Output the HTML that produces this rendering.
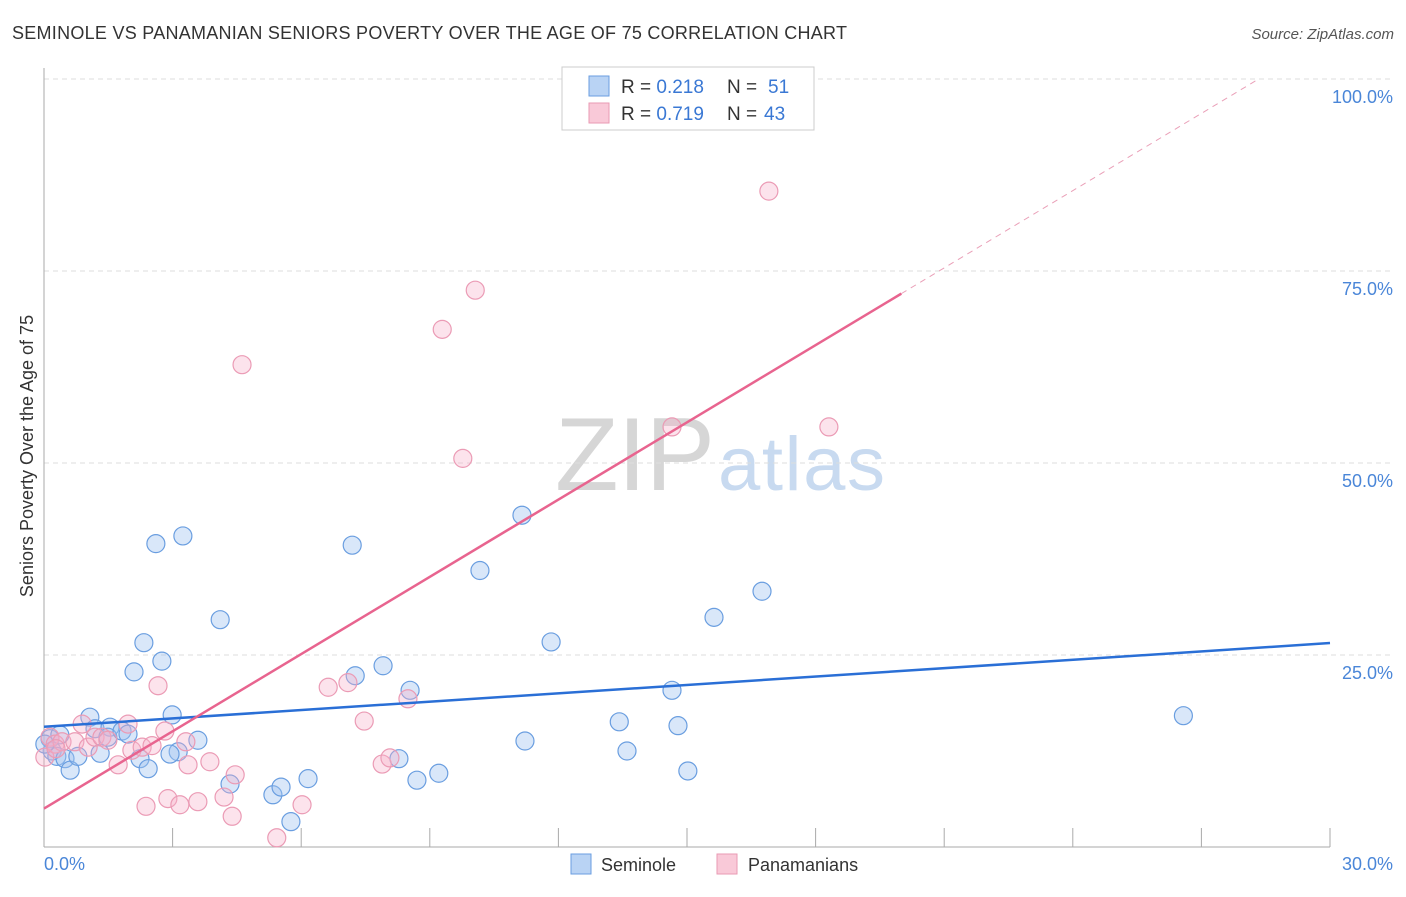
<!DOCTYPE html>
<html><head><meta charset="utf-8"><style>
body{margin:0;background:#fff;font-family:"Liberation Sans",sans-serif;}
svg text{font-family:"Liberation Sans",sans-serif;}
</style></head><body>
<svg id="chart" width="1406" height="892">
<text x="12" y="39" font-size="18" fill="#333" textLength="835">SEMINOLE VS PANAMANIAN SENIORS POVERTY OVER THE AGE OF 75 CORRELATION CHART</text>
<text x="1394" y="39" font-size="15" fill="#555" text-anchor="end" font-style="italic">Source: ZipAtlas.com</text>
<text x="555" y="490" font-size="104" fill="#d6d6d6" textLength="160" font-family="Liberation Serif">ZIP</text>
<text x="718" y="490" font-size="76" fill="#c8daf0" textLength="167">atlas</text>
<g id="grid"></g>
<line x1="44" y1="68" x2="44" y2="847" stroke="#aaa"/>
<line x1="44" y1="847" x2="1330" y2="847" stroke="#aaa"/>
<text transform="translate(33,456) rotate(-90)" font-size="18" fill="#333" text-anchor="middle">Seniors Poverty Over the Age of 75</text>
<text x="44" y="870" font-size="18" fill="#4a86d8">0.0%</text>
<text x="1393" y="870" font-size="18" fill="#4a86d8" text-anchor="end">30.0%</text>
<g id="marks"></g>
<g>
<rect x="562" y="67" width="252" height="63" fill="#fff" stroke="#ccc"/>
<rect x="589" y="76" width="20" height="20" fill="#b9d3f4" stroke="#6a9ee0"/>
<rect x="589" y="103" width="20" height="20" fill="#f9c9d8" stroke="#e99ab3"/>
<text x="621" y="93" font-size="19" fill="#333">R = <tspan fill="#3a78d4">0.218</tspan></text>
<text x="727" y="93" font-size="19" fill="#333">N = </text><text x="768" y="93" font-size="19" fill="#3a78d4">51</text>
<text x="621" y="120" font-size="19" fill="#333">R = <tspan fill="#3a78d4">0.719</tspan></text>
<text x="727" y="120" font-size="19" fill="#333">N = </text><text x="764" y="120" font-size="19" fill="#3a78d4">43</text>
</g>
<g>
<rect x="571" y="854" width="20" height="20" fill="#b9d3f4" stroke="#6a9ee0"/>
<text x="601" y="871" font-size="18" fill="#333">Seminole</text>
<rect x="717" y="854" width="20" height="20" fill="#f9c9d8" stroke="#e99ab3"/>
<text x="748" y="871" font-size="18" fill="#333">Panamanians</text>
</g>
</svg>
<script>
const yTicks=[25,50,75,100];
const xTickCount=10;
const blueX=[0.14,0.19,0.30,0.49,0.61,0.79,1.07,1.19,1.31,1.54,1.49,1.82,1.96,2.24,2.43,2.10,2.33,2.61,2.75,2.99,3.13,2.94,3.24,3.59,4.11,4.34,5.34,5.53,5.76,6.16,7.19,7.26,7.91,8.28,8.54,8.70,9.21,10.17,11.15,11.22,11.83,13.42,13.60,14.65,14.79,15.02,15.63,16.75,26.58,0.02,0.37];
const blueY=[14.1,12.5,11.8,11.5,10.0,11.8,16.9,15.4,12.2,15.6,14.3,15.1,14.7,11.5,10.2,22.8,26.6,39.5,24.2,17.2,12.4,12.1,40.5,13.9,29.6,8.2,6.8,7.8,3.3,8.9,39.3,22.3,23.6,11.5,20.4,8.7,9.6,36.0,43.2,13.8,26.7,16.3,12.5,20.4,15.8,9.9,29.9,33.3,17.1,13.4,14.6];
const pinkX=[0.02,0.14,0.26,0.42,0.72,0.89,1.03,1.19,1.35,1.49,1.73,1.96,2.05,2.29,2.52,2.38,2.66,2.82,2.89,3.17,3.31,3.36,3.59,3.87,4.20,4.39,4.46,4.62,5.43,6.02,6.63,7.09,7.47,7.89,8.07,8.49,9.29,9.77,10.06,14.65,16.91,18.31,0.28];
const pinkY=[11.7,14.3,13.4,13.7,13.7,16.0,13.0,14.3,14.3,13.9,10.7,16.0,12.6,13.0,13.2,5.3,21.0,15.1,6.3,5.5,13.7,10.7,5.9,11.1,6.5,4.0,9.4,62.8,1.2,5.5,20.8,21.4,16.4,10.8,11.6,19.3,67.4,50.6,72.5,54.7,85.4,54.7,12.8];
const X0=44,X1=1330,Y0=847,PPY=7.68;
const sx=v=>X0+v/30*(X1-X0), sy=v=>Y0-v*PPY;
const NS='http://www.w3.org/2000/svg';
const grid=document.getElementById('grid'), marks=document.getElementById('marks');
function mk(tag,attrs,parent){const e=document.createElementNS(NS,tag);for(const k in attrs)e.setAttribute(k,attrs[k]);parent.appendChild(e);return e;}
yTicks.forEach(t=>{
 const l=mk('line',{x1:44,x2:1394,y1:sy(t),y2:sy(t),stroke:'#ddd','stroke-dasharray':'5,4'},grid);
 
 
 const tx=mk('text',{x:1393,y:sy(t)+24,'font-size':18,fill:'#4a86d8','text-anchor':'end'},grid);
 tx.textContent=t.toFixed(1)+'%';
 
 
});
for(let i=1;i<=xTickCount;i++){
 const x=sx(i*3);
 const l=mk('line',{x1:x,x2:x,y1:828,y2:847,stroke:'#aaa'},grid);
 
 
}
function pts(xs,ys,fill,stroke,name){
 xs.forEach((v,i)=>{
  const c=mk('circle',{cx:sx(v),cy:sy(ys[i]),r:9,fill:fill,stroke:stroke,'stroke-width':1.2},marks);
  
  
 });
}
pts(blueX,blueY,'rgba(160,196,240,0.4)','#6a9ee0','seminole-point');
pts(pinkX,pinkY,'rgba(246,176,200,0.35)','#eb9bb5','panamanian-point');
function fit(xs,ys){const n=xs.length;let mx=0,my=0;xs.forEach((v,i)=>{mx+=v;my+=ys[i];});mx/=n;my/=n;let a=0,b=0;xs.forEach((v,i)=>{a+=(v-mx)*(ys[i]-my);b+=(v-mx)**2;});const s=a/b;return [s,my-s*mx];}
const [bs,bi]=fit(blueX,blueY);
let e=mk('line',{x1:sx(0),y1:sy(bi),x2:sx(30),y2:sy(bi+bs*30),stroke:'#2a6fd6','stroke-width':2.5},marks);


const [ps,pi]=fit(pinkX,pinkY);
const xe=Math.min(20,(100-pi)/ps), xm=Math.min(30,(100-pi)/ps);
e=mk('line',{x1:sx(0),y1:sy(pi),x2:sx(xe),y2:sy(pi+ps*xe),stroke:'#e8648f','stroke-width':2.5},marks);


e=mk('line',{x1:sx(xe),y1:sy(pi+ps*xe),x2:sx(xm),y2:sy(pi+ps*xm),stroke:'#eaa0b8','stroke-width':1,'stroke-dasharray':'6,5'},marks);


</script>
</body></html>
